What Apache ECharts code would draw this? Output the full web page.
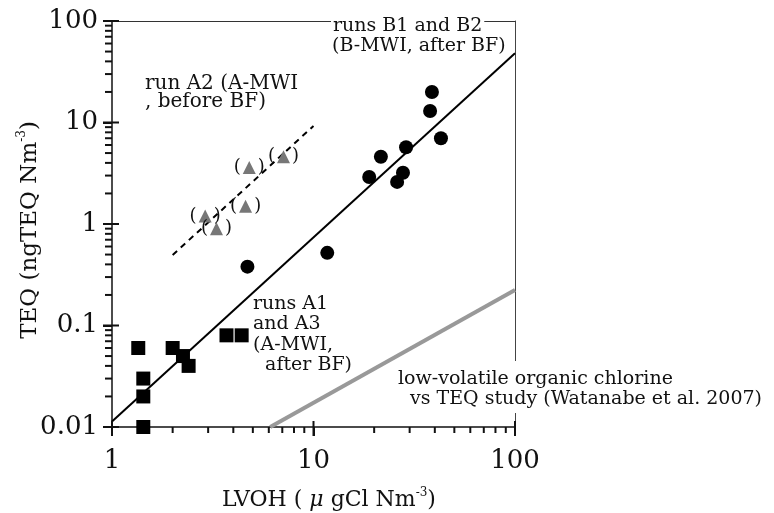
<!DOCTYPE html>
<html>
<head>
	<meta charset="utf-8">
	<title>TEQ vs LVOH</title>
	<script src="https://cdn.jsdelivr.net/npm/echarts@6/dist/echarts.min.js"></script>
	<style type="text/css">
		html,body{
			margin: 0;
			padding: 0;
			background: #fff;
		}
		#main{
			width: 774px;
			height: 513px;
		}
	</style>
</head>
<body>
<div id="main"></div>
<script>
    // runs A1 and A3 (A-MWI, after BF)
    var squares = [[1.35, 0.06], [1.43, 0.03], [1.43, 0.02], [1.43, 0.01], [2.0, 0.06],
        [2.25, 0.05], [2.4, 0.04], [3.7, 0.08], [4.4, 0.08]];
    // runs B1 and B2 (B-MWI, after BF)
    var circles = [[38.7, 20], [37.9, 13], [42.9, 7], [28.8, 5.7], [21.6, 4.6], [18.9, 2.9],
        [27.8, 3.2], [26, 2.6], [4.7, 0.38], [11.7, 0.52]];
    // run A2 (A-MWI, before BF)
    var triangles = [[4.8, 3.6], [7.1, 4.6], [4.6, 1.5], [2.9, 1.2], [3.3, 0.9]];
    // fitted lines
    var fitAll = [[1, 0.0113], [100, 48]];
    var fitA2 = [[2, 0.495], [10, 9.25]];
    var watanabe = [[6.1, 0.01], [100, 0.224]];

    // axis ticks
    var xMajor = [1, 10, 100];
    var yMajor = [0.01, 0.1, 1, 10, 100];
    var xMinor = [2, 3, 4, 5, 6, 7, 8, 9, 20, 30, 40, 50, 60, 70, 80, 90];
    var yMinor = [0.02, 0.03, 0.04, 0.05, 0.06, 0.07, 0.08, 0.09,
        0.2, 0.3, 0.4, 0.5, 0.6, 0.7, 0.8, 0.9,
        2, 3, 4, 5, 6, 7, 8, 9, 20, 30, 40, 50, 60, 70, 80, 90];

    var serif = 'DejaVu Serif';
    var ink = '#111';
    var myChart = echarts.init(document.getElementById('main'));

    // tick marks as thin rect symbols sitting on the axes
    function tickSeries(values, dir, size, offset) {
        return {
            type: 'scatter', z: 5, silent: true, clip: false,
            symbol: 'rect', symbolSize: size, symbolOffset: offset,
            itemStyle: { color: ink, opacity: 1 },
            data: values.map(function (v) { return dir === 'x' ? [v, 0.01] : [1, v]; })
        };
    }

    var option = {
        backgroundColor: '#fff',
        animation: false,
        grid: { left: 112, right: 259, top: 21, bottom: 86 },
        xAxis: [
            {
                type: 'log', min: 1, max: 100, position: 'bottom',
                axisLine: { show: true, onZero: false, lineStyle: { color: ink, width: 1.5 } },
                axisTick: { show: true, inside: false, length: 9, lineStyle: { color: ink, width: 2 } },
                axisLabel: { color: ink, fontSize: 26, fontFamily: serif, margin: 21 },
                splitLine: { show: false }
            },
            {
                type: 'log', min: 1, max: 100, position: 'top',
                axisLine: { show: true, onZero: false, lineStyle: { color: '#333', width: 1 } },
                axisTick: { show: false },
                axisLabel: { show: false },
                splitLine: { show: false }
            }
        ],
        yAxis: [
            {
                type: 'log', min: 0.01, max: 100, position: 'left',
                axisLine: { show: true, onZero: false, lineStyle: { color: ink, width: 1.5 } },
                axisTick: { show: true, inside: false, length: 9, lineStyle: { color: ink, width: 2 } },
                axisLabel: { color: ink, fontSize: 26, fontFamily: serif, margin: 14 },
                splitLine: { show: false }
            },
            {
                type: 'log', min: 0.01, max: 100, position: 'right',
                axisLine: { show: true, onZero: false, lineStyle: { color: '#444', width: 1 } },
                axisTick: { show: false },
                axisLabel: { show: false },
                splitLine: { show: false }
            }
        ],
        series: [
            {
                type: 'line', data: watanabe, symbol: 'none', z: 1,
                lineStyle: { color: '#999', width: 4 }
            },
            {
                type: 'line', data: fitAll, symbol: 'none', z: 2,
                lineStyle: { color: '#000', width: 2 }
            },
            {
                type: 'line', data: fitA2, symbol: 'none', z: 2,
                lineStyle: { color: '#000', width: 2, type: [6, 5] }
            },
            {
                type: 'scatter', data: squares, symbol: 'rect', symbolSize: 14, z: 3,
                itemStyle: { color: '#000', opacity: 1 }
            },
            {
                type: 'scatter', data: circles, symbol: 'circle', symbolSize: 14, z: 3,
                itemStyle: { color: '#000', opacity: 1 }
            },
            {
                type: 'scatter', data: triangles, symbol: 'triangle', symbolSize: 13, z: 3,
                itemStyle: { color: '#777', opacity: 1 },
                label: {
                    show: true, position: 'inside', formatter: '(   )',
                    color: ink, fontSize: 18, fontFamily: serif
                }
            },
            tickSeries(xMajor, 'x', [2, 15], [0, 1.5]),
            tickSeries(xMinor, 'x', [2, 6], [0, 3]),
            tickSeries(yMajor, 'y', [16, 2], [-1, 0]),
            tickSeries(yMinor, 'y', [7, 2], [-3.5, 0])
        ],
        graphic: [
            {
                type: 'text', z: 100, x: 145, y: 75,
                style: {
                    text: 'run A2 (A-MWI\n, before BF)', fontSize: 20, fontFamily: serif,
                    lineHeight: 18, fill: ink, textAlign: 'left', textVerticalAlign: 'top'
                }
            },
            {
                type: 'text', z: 100, x: 331, y: 16,
                style: {
                    text: 'runs B1 and B2', fontSize: 19, fontFamily: serif,
                    lineHeight: 20, fill: ink, textAlign: 'left', textVerticalAlign: 'top',
                    backgroundColor: '#fff', padding: [0, 2, 0, 2]
                }
            },
            {
                type: 'text', z: 100, x: 332, y: 36,
                style: {
                    text: '(B-MWI, after BF)', fontSize: 19, fontFamily: serif,
                    lineHeight: 20, fill: ink, textAlign: 'left', textVerticalAlign: 'top'
                }
            },
            {
                type: 'text', z: 100, x: 253, y: 294,
                style: {
                    text: 'runs A1\nand A3\n(A-MWI,\n  after BF)', fontSize: 19, fontFamily: serif,
                    lineHeight: 20.3, fill: ink, textAlign: 'left', textVerticalAlign: 'top'
                }
            },
            {
                type: 'text', z: 100, x: 407, y: 389,
                style: {
                    text: 'vs TEQ study (Watanabe et al. 2007)', fontSize: 19, fontFamily: serif,
                    lineHeight: 20, fill: ink, textAlign: 'left', textVerticalAlign: 'top',
                    backgroundColor: '#fff', padding: [0, 3, 4, 3]
                }
            },
            {
                type: 'text', z: 101, x: 395, y: 361,
                style: {
                    text: 'low-volatile organic chlorine', fontSize: 19, fontFamily: serif,
                    lineHeight: 20, fill: ink, textAlign: 'left', textVerticalAlign: 'top',
                    backgroundColor: '#fff', padding: [8, 3, 0, 3]
                }
            },
            {
                type: 'text', z: 100, x: 329, y: 500,
                style: {
                    text: '{n|LVOH ( }{i|μ}{n| gCl Nm}{s|-3}{n|)}',
                    textAlign: 'center', textVerticalAlign: 'middle', fill: ink,
                    rich: {
                        n: { fontSize: 22, fontFamily: serif, lineHeight: 26, color: ink },
                        i: { fontSize: 22, fontFamily: serif, fontStyle: 'italic', lineHeight: 26, color: ink },
                        s: { fontSize: 12, fontFamily: serif, lineHeight: 12, verticalAlign: 'top', color: ink }
                    }
                }
            },
            {
                type: 'text', z: 100, x: 30, y: 230, rotation: Math.PI / 2,
                style: {
                    text: '{n|TEQ (ngTEQ Nm}{s|-3}{n|)}',
                    textAlign: 'center', textVerticalAlign: 'middle', fill: ink,
                    rich: {
                        n: { fontSize: 23, fontFamily: serif, lineHeight: 28, color: ink },
                        s: { fontSize: 12, fontFamily: serif, lineHeight: 12, verticalAlign: 'top', color: ink }
                    }
                }
            }
        ]
    };

    myChart.setOption(option);
</script>
</body>
</html>
